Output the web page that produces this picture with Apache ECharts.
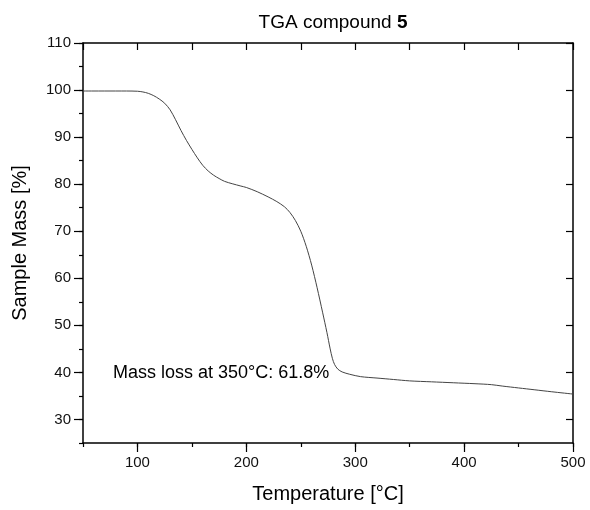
<!DOCTYPE html>
<html>
<head>
<meta charset="utf-8">
<script src="https://cdn.jsdelivr.net/npm/echarts@6/dist/echarts.min.js"></script>
<style>
  html, body { margin: 0; padding: 0; background: #fff; }
  #chart { width: 590px; height: 510px; }
</style>
</head>
<body>
<div id="chart"></div>
<script>
// temperature in °C
var temps = [50, 70, 90, 100, 105, 110, 115, 120, 125, 130, 135, 140, 145, 150, 155, 160,
  165, 170, 175, 180, 187, 195, 200, 210, 220, 228, 235, 240, 245, 250, 255, 260, 265,
  270, 274, 277, 279, 281, 284, 288, 295, 305, 320, 335, 350, 370, 390, 410, 425, 435,
  450, 465, 480, 500]
// sample mass in %
var mass = [99.8, 99.8, 99.8, 99.75, 99.6, 99.3, 98.8, 98.1, 97.2, 95.8, 93.7, 91.4, 89.3,
  87.4, 85.6, 84.0, 82.8, 81.9, 81.2, 80.6, 80.1, 79.6, 79.3, 78.4, 77.3, 76.3, 75.2, 74.0,
  72.3, 70.0, 66.8, 62.8, 58.0, 52.8, 48.5, 45.0, 43.0, 41.7, 40.7, 40.1, 39.6, 39.1, 38.8,
  38.5, 38.2, 38.0, 37.8, 37.6, 37.4, 37.1, 36.7, 36.3, 35.9, 35.4]
var xLabels = [100, 200, 300, 400, 500]
var yLabels = [30, 40, 50, 60, 70, 80, 90, 100, 110]

var font = 'Liberation Sans, Arial, sans-serif'
var black = '#000'

var chart = echarts.init(document.getElementById('chart'))

chart.setOption({
  animation: false,
  backgroundColor: '#fff',
  title: {
    text: '{n|TGA compound }{b|5}',
    left: 328,
    textAlign: 'center',
    top: 8,
    textStyle: {
      fontWeight: 'normal',
      rich: {
        n: { fontFamily: font, fontSize: 19, color: black, fontWeight: 'normal' },
        b: { fontFamily: font, fontSize: 19, color: black, fontWeight: 'bold' }
      }
    }
  },
  grid: [
    // main plot area
    { left: 83, right: 17, top: 43, bottom: 67, containLabel: false },
    // helper grid for the long (major) ticks, x from 100 and y from 30
    { left: 137.4, right: 17, top: 43, bottom: 90.5, containLabel: false }
  ],
  xAxis: [
    {
      type: 'value', gridIndex: 0, min: 50, max: 500, interval: 50,
      position: 'bottom',
      name: 'Temperature [°C]', nameLocation: 'middle', nameGap: 41,
      nameTextStyle: { fontFamily: font, fontSize: 20, color: black },
      axisLine: { show: true, lineStyle: { color: black, width: 1.5 } },
      axisTick: { show: true, inside: false, length: 4, lineStyle: { color: black, width: 1.2 } },
      axisLabel: {
        margin: 12, fontFamily: font, fontSize: 15, color: '#111',
        formatter: function (v) { return xLabels.indexOf(v) >= 0 ? String(v) : '' }
      },
      splitLine: { show: false }
    },
    {
      type: 'value', gridIndex: 0, min: 50, max: 500, interval: 50,
      position: 'top',
      axisLine: { show: true, lineStyle: { color: black, width: 1.5 } },
      axisTick: { show: true, inside: true, length: 7, lineStyle: { color: black, width: 1.2 } },
      axisLabel: { show: false },
      splitLine: { show: false }
    },
    {
      type: 'value', gridIndex: 1, min: 100, max: 500, interval: 100,
      position: 'bottom', offset: 23.5,
      axisLine: { show: false },
      axisTick: { show: true, inside: false, length: 9, lineStyle: { color: black, width: 1.2 } },
      axisLabel: { show: false },
      splitLine: { show: false }
    }
  ],
  yAxis: [
    {
      type: 'value', gridIndex: 0, min: 25, max: 110, interval: 5,
      position: 'left',
      name: 'Sample Mass [%]', nameLocation: 'middle', nameGap: 53,
      nameTextStyle: { fontFamily: font, fontSize: 20, color: black },
      axisLine: { show: true, lineStyle: { color: black, width: 1.5 } },
      axisTick: { show: true, inside: false, length: 4, lineStyle: { color: black, width: 1.2 } },
      axisLabel: {
        margin: 12, fontFamily: font, fontSize: 15, color: '#111',
        formatter: function (v) { return yLabels.indexOf(v) >= 0 ? String(v) : '' }
      },
      splitLine: { show: false }
    },
    {
      type: 'value', gridIndex: 0, min: 25, max: 110, interval: 5,
      position: 'right',
      axisLine: { show: true, lineStyle: { color: black, width: 1.5 } },
      axisTick: { show: false },
      axisLabel: { show: false },
      splitLine: { show: false }
    },
    {
      type: 'value', gridIndex: 1, min: 30, max: 110, interval: 10,
      position: 'left', offset: 54.4,
      axisLine: { show: false },
      axisTick: { show: true, inside: false, length: 9, lineStyle: { color: black, width: 1.2 } },
      axisLabel: { show: false },
      splitLine: { show: false }
    },
    {
      type: 'value', gridIndex: 1, min: 30, max: 110, interval: 10,
      position: 'right',
      axisLine: { show: false },
      axisTick: { show: true, inside: true, length: 7, lineStyle: { color: black, width: 1.2 } },
      axisLabel: { show: false },
      splitLine: { show: false }
    }
  ],
  graphic: [
    {
      type: 'text', left: 113, top: 364,
      style: { text: 'Mass loss at 350°C: 61.8%', fontFamily: font, fontSize: 18, fill: black }
    }
  ],
  series: [
    {
      type: 'line',
      xAxisIndex: 0, yAxisIndex: 0,
      data: temps.map(function (t, i) { return [t, mass[i]] }),
      smooth: 0.3,
      symbol: 'none',
      lineStyle: { color: '#444', width: 1 }
    }
  ]
})
</script>
</body>
</html>
